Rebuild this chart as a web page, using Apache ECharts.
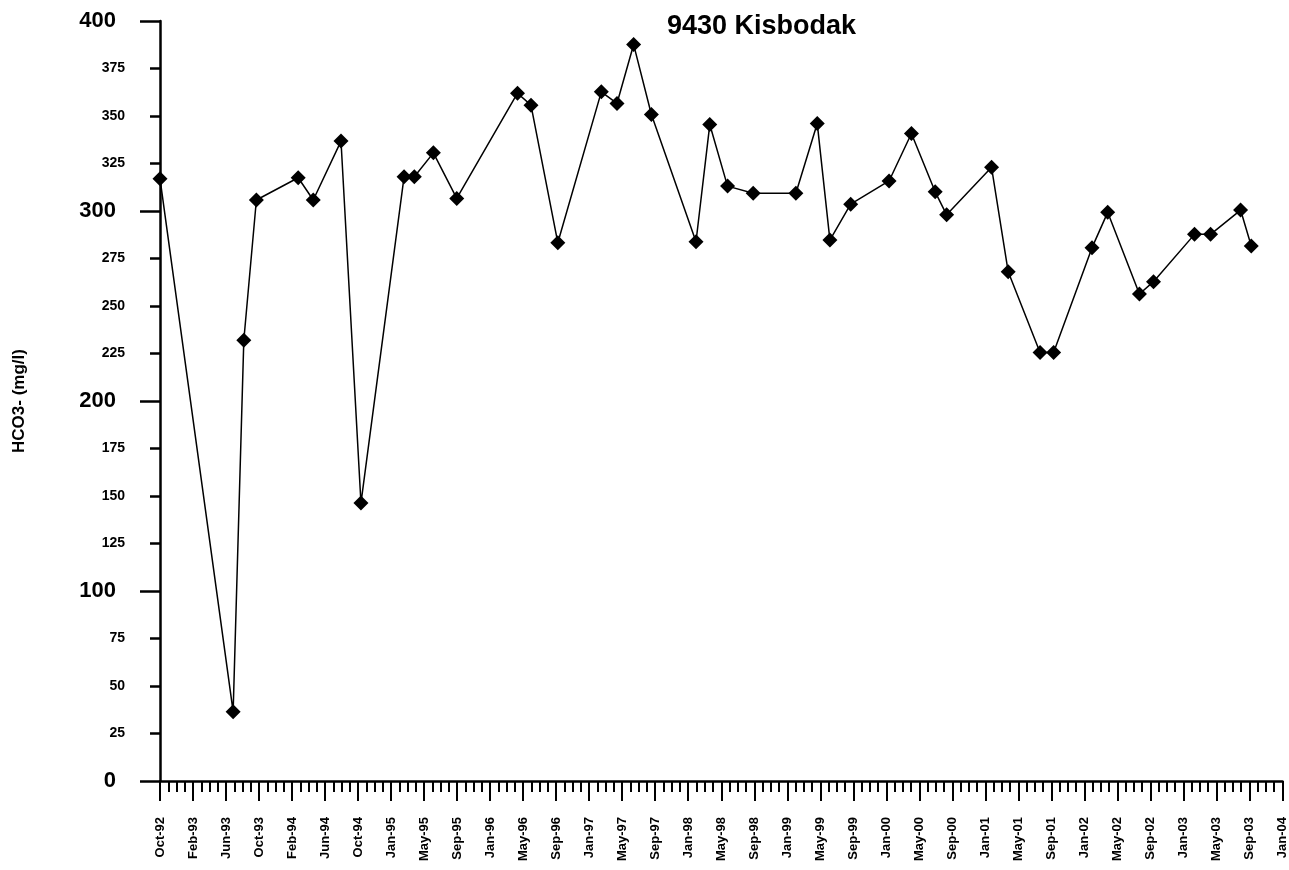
<!DOCTYPE html>
<html>
<head>
<meta charset="utf-8">
<script src="https://cdn.jsdelivr.net/npm/echarts@6/dist/echarts.min.js"></script>
<style>html,body{margin:0;padding:0;background:#fff;}#chart{width:1289px;height:870px;}</style>
</head>
<body>
<div id="chart"></div>
<script>
// Sampling dates (decimal years) and HCO3- values (mg/l)
const sampleYears = [
  1992.75, 1993.483, 1993.590, 1993.716, 1994.135, 1994.286, 1994.564, 1994.764,
  1995.196, 1995.299, 1995.490, 1995.724, 1996.333, 1996.468, 1996.737, 1997.173,
  1997.330, 1997.497, 1997.675, 1998.122, 1998.260, 1998.438, 1998.695, 1999.123,
  1999.337, 1999.464, 1999.672, 2000.057, 2000.281, 2000.519, 2000.634, 2001.084,
  2001.251, 2001.570, 2001.706, 2002.091, 2002.248, 2002.566, 2002.707, 2003.118,
  2003.279, 2003.580, 2003.687
];
const hco3Values = [
  317, 36.5, 232, 305.8, 317.5, 305.8, 336.8, 146.3,
  318, 318, 330.6, 306.6, 362, 355.7, 283.3, 362.7,
  356.6, 387.6, 350.8, 283.8, 345.5, 313.1, 309.3, 309.3,
  346.1, 284.7, 303.6, 315.8, 340.8, 310.1, 298, 323,
  268, 225.5, 225.5, 280.7, 299.3, 256.3, 262.8, 287.7,
  287.7, 300.5, 281.6
];
const xTickLabels = [
  'Oct-92','Feb-93','Jun-93','Oct-93','Feb-94','Jun-94','Oct-94','Jan-95','May-95','Sep-95',
  'Jan-96','May-96','Sep-96','Jan-97','May-97','Sep-97','Jan-98','May-98','Sep-98','Jan-99',
  'May-99','Sep-99','Jan-00','May-00','Sep-00','Jan-01','May-01','Sep-01','Jan-02','May-02',
  'Sep-02','Jan-03','May-03','Sep-03','Jan-04'
];
const axisStartYear = 1992.75;  // Oct-92
const axisEndYear = 2004.0;     // Jan-04
const titleText = '9430 Kisbodak';
const yAxisName = 'HCO3- (mg/l)';

const nSteps = xTickLabels.length - 1;
const toPos = y => (y - axisStartYear) / (axisEndYear - axisStartYear) * nSteps;
const seriesData = sampleYears.map((y, i) => [toPos(y), hco3Values[i]]);

const FONT = '"Liberation Sans", Arial, sans-serif';
const chart = echarts.init(document.getElementById('chart'), null, {renderer: 'canvas'});
chart.setOption({
  backgroundColor: '#fff',
  animation: false,
  title: {
    text: titleText, left: 662, top: 8,
    textStyle: {fontFamily: FONT, fontSize: 27, fontWeight: 'bold', color: '#000'}
  },
  grid: {left: 160, right: 6, top: 21, bottom: 89},
  xAxis: {
    type: 'value', min: 0, max: nSteps, interval: 1,
    axisLine: {show: true, lineStyle: {color: '#000', width: 2.5}},
    axisTick: {show: true, length: 20, lineStyle: {color: '#000', width: 2}},
    minorTick: {show: true, splitNumber: 4, length: 11, lineStyle: {color: '#000', width: 2}},
    splitLine: {show: false},
    axisLabel: {
      rotate: 90, margin: 36, color: '#000', fontFamily: FONT, fontSize: 13, fontWeight: 'bold',
      formatter: v => (Number.isInteger(v) ? xTickLabels[v] : '')
    }
  },
  yAxis: [{
    type: 'value', min: 0, max: 400, interval: 25,
    name: yAxisName, nameLocation: 'middle', nameGap: 132, nameRotate: 90,
    nameMoveOverlap: false,
    nameTextStyle: {fontFamily: FONT, fontSize: 17, fontWeight: 'bold', color: '#000'},
    axisLine: {show: true, lineStyle: {color: '#000', width: 2.5}},
    axisTick: {show: true, length: 10, lineStyle: {color: '#000', width: 2.5}},
    splitLine: {show: false},
    axisLabel: {
      margin: 35, color: '#000',
      formatter: v => (v % 100 === 0 ? '{big|' + v + '}' : '{small|' + v + '}'),
      rich: {
        big: {fontFamily: FONT, fontSize: 22, fontWeight: 'bold', color: '#000', padding: [0, 9, 0, 0]},
        small: {fontFamily: FONT, fontSize: 14, fontWeight: 'bold', color: '#000'}
      }
    }
  }, {
    type: 'value', min: 0, max: 400, interval: 100, position: 'left',
    axisLine: {show: false},
    axisTick: {show: true, length: 20, lineStyle: {color: '#000', width: 2.5}},
    axisLabel: {show: false},
    splitLine: {show: false}
  }],
  series: [{
    type: 'line', data: seriesData, yAxisIndex: 0,
    symbol: 'diamond', symbolSize: 15, showSymbol: true,
    lineStyle: {color: '#000', width: 1.5},
    itemStyle: {color: '#000'},
    clip: false
  }]
});
</script>
</body>
</html>
